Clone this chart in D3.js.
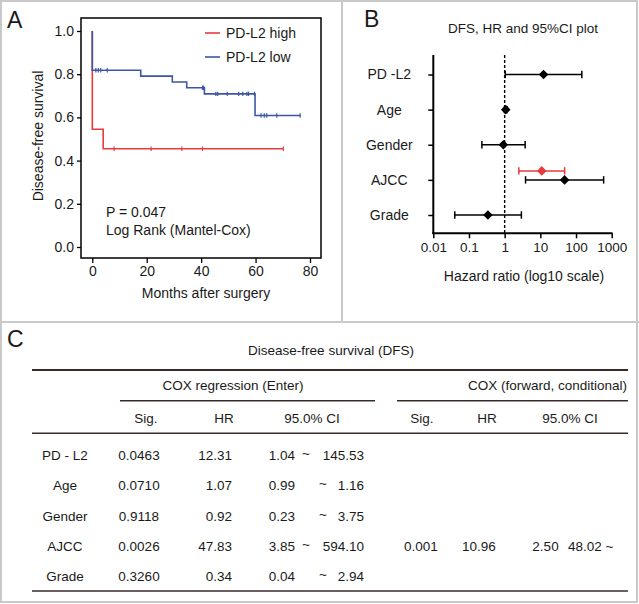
<!doctype html>
<html lang="en">
<head>
<meta charset="utf-8">
<title>Disease-free survival, PD-L2</title>
<script src="https://cdn.jsdelivr.net/npm/d3@7"></script>
<style>
    body { margin: 0; background: #fff; }
    svg text { font-family: "Liberation Sans", Arial, sans-serif; fill: #1a1a1a; }
</style>
</head>
<body>
<svg id="chart" width="639" height="604"></svg>
<script>
// ---- panel A: Kaplan-Meier curves (months, survival) ----
var highTimes = [0, 4.0];
var highSurv = [0.545, 0.455];
var highEnd = 70.2;
var highCensor = [8.0, 21.6, 32.9, 40.5, 70.2];

var lowTimes = [0, 17.8, 29.4, 34.7, 41.2, 59.8];
var lowSurv = [0.818, 0.791, 0.764, 0.737, 0.709, 0.609];
var lowEnd = 76.4;
var lowCensor = [1.3, 2.2, 3.1, 5.5, 40.5, 40.9, 45.4, 46.1, 49.6, 53.8, 55.3, 56.8, 57.4, 59.6, 62.0, 63.2, 64.1, 67.8, 76.4];

var monthTicks = [0, 20, 40, 60, 80];
var survTicks = [0, 0.2, 0.4, 0.6, 0.8, 1.0];

// ---- panel B / C: cox regression ----
var variables = ["PD -L2", "Age", "Gender", "AJCC", "Grade"];
var tableLabels = ["PD - L2", "Age", "Gender", "AJCC", "Grade"];
var sigEnter = ["0.0463", "0.0710", "0.9118", "0.0026", "0.3260"];
var hrEnter = [12.31, 1.07, 0.92, 47.83, 0.34];
var ciLowEnter = [1.04, 0.99, 0.23, 3.85, 0.04];
var ciHighEnter = [145.53, 1.16, 3.75, 594.10, 2.94];

var sigForward = [null, null, null, "0.001", null];
var hrForward = [null, null, null, 10.96, null];
var ciLowForward = [null, null, null, 2.50, null];
var ciHighForward = [null, null, null, 48.02, null];

var hrTicks = [0.01, 0.1, 1, 10, 100, 1000];

var red = "#e63b3e", blue = "#3d56a3", ink = "#1a1a1a", rule = "#3b2a2a";

var svg = d3.select("#chart");

// panel frames
svg.append("rect").attr("x", 1).attr("y", 1).attr("width", 636).attr("height", 601)
    .attr("fill", "none").attr("stroke", "#c9c9c9").attr("stroke-width", 2);
svg.append("line").attr("x1", 342).attr("x2", 342).attr("y1", 0).attr("y2", 322)
    .attr("stroke", "#c9c9c9").attr("stroke-width", 2);
svg.append("line").attr("x1", 0).attr("x2", 639).attr("y1", 322).attr("y2", 322)
    .attr("stroke", "#c9c9c9").attr("stroke-width", 2);

function panelLetter(t, x, y) {
    svg.append("text").attr("x", x).attr("y", y).text(t)
        .style("font-size", "23px");
}
panelLetter("A", 7, 28);
panelLetter("B", 364, 27);
panelLetter("C", 7, 347);

/* ================= A ================= */
var kx = d3.scaleLinear().domain([0, 80]).range([92.3, 310]);
var ky = d3.scaleLinear().domain([0, 1]).range([247, 31]);

var gA = svg.append("g");
gA.append("rect").attr("x", 81).attr("y", 18).attr("width", 240).attr("height", 240)
    .attr("fill", "none").attr("stroke", "#000").attr("stroke-width", 1.5);

var yAx = gA.append("g").attr("transform", "translate(81,0)")
    .call(d3.axisLeft(ky).tickValues(survTicks).tickFormat(d3.format(".1f")).tickSize(4).tickPadding(3));
var xAx = gA.append("g").attr("transform", "translate(0,258)")
    .call(d3.axisBottom(kx).tickValues(monthTicks).tickSize(5).tickPadding(3));
[yAx, xAx].forEach(function (a) {
    a.select(".domain").remove();
    a.selectAll("line").attr("stroke", "#000").attr("stroke-width", 1.3);
    a.selectAll("text").style("font-size", "14px").attr("fill", ink);
});

gA.append("text").attr("transform", "translate(43,136) rotate(-90)")
    .attr("text-anchor", "middle").style("font-size", "14px").text("Disease-free survival");
gA.append("text").attr("x", 206).attr("y", 298)
    .attr("text-anchor", "middle").style("font-size", "14px").text("Months after surgery");

function stepPoints(times, surv, end) {
    var pts = [[0, 1]];
    times.forEach(function (t, i) { pts.push([t, surv[i]]); });
    pts.push([end, surv[surv.length - 1]]);
    return pts;
}
function survAt(times, surv, t) {
    var s = 1;
    times.forEach(function (tt, i) { if (tt <= t) s = surv[i]; });
    return s;
}
var km = d3.line().x(function (d) { return kx(d[0]); }).y(function (d) { return ky(d[1]); })
    .curve(d3.curveStepAfter);

[[highTimes, highSurv, highEnd, highCensor, red], [lowTimes, lowSurv, lowEnd, lowCensor, blue]]
    .forEach(function (g) {
        gA.append("path").datum(stepPoints(g[0], g[1], g[2])).attr("d", km)
            .attr("fill", "none").attr("stroke", g[4]).attr("stroke-width", 1.6);
        gA.selectAll(null).data(g[3]).enter().append("line")
            .attr("x1", function (d) { return kx(d); }).attr("x2", function (d) { return kx(d); })
            .attr("y1", function (d) { return ky(survAt(g[0], g[1], d)) - 2.2; })
            .attr("y2", function (d) { return ky(survAt(g[0], g[1], d)) + 2.2; })
            .attr("stroke", g[4]).attr("stroke-width", 1.2);
    });

// legend
[["PD-L2 high", red, 33], ["PD-L2 low", blue, 57]].forEach(function (l) {
    gA.append("line").attr("x1", 205).attr("x2", 220).attr("y1", l[2]).attr("y2", l[2])
        .attr("stroke", l[1]).attr("stroke-width", 1.6);
    gA.append("text").attr("x", 226).attr("y", l[2] + 5).style("font-size", "14px").text(l[0]);
});
gA.append("text").attr("x", 106).attr("y", 217).style("font-size", "14px").text("P = 0.047");
gA.append("text").attr("x", 106).attr("y", 235).style("font-size", "14px").text("Log Rank (Mantel-Cox)");

/* ================= B ================= */
var fx = d3.scaleLog().domain([0.01, 1000]).range([433.3, 611.7]);
var fy = d3.scalePoint().domain(variables).range([74.5, 215]);
var gB = svg.append("g");

gB.append("text").attr("x", 523).attr("y", 33).attr("text-anchor", "middle")
    .style("font-size", "13.5px").text("DFS, HR and 95%CI plot");

gB.append("line").attr("x1", 433.3).attr("x2", 433.3).attr("y1", 55).attr("y2", 234)
    .attr("stroke", "#000").attr("stroke-width", 2);
gB.append("line").attr("x1", 432.3).attr("x2", 612.5).attr("y1", 233.3).attr("y2", 233.3)
    .attr("stroke", "#000").attr("stroke-width", 2);

var fyAx = gB.append("g").attr("transform", "translate(433.3,0)")
    .call(d3.axisLeft(fy).tickSize(5).tickPadding(0));
fyAx.selectAll("text").attr("x", -44).attr("text-anchor", "middle")
    .style("font-size", "14px").attr("fill", ink);
var fxAx = gB.append("g").attr("transform", "translate(0,233.3)")
    .call(d3.axisBottom(fx).tickValues(hrTicks).tickFormat(function (d) { return String(d); })
        .tickSize(5).tickPadding(4));
fxAx.selectAll("text").style("font-size", "13.5px").attr("fill", ink);
[fyAx, fxAx].forEach(function (a) {
    a.select(".domain").remove();
    a.selectAll("line").attr("stroke", "#000").attr("stroke-width", 1.5);
});

gB.append("text").attr("x", 524).attr("y", 281).attr("text-anchor", "middle")
    .style("font-size", "14px").text("Hazard ratio (log10 scale)");

gB.append("line").attr("x1", fx(1)).attr("x2", fx(1)).attr("y1", 55).attr("y2", 233)
    .attr("stroke", "#000").attr("stroke-width", 1.4).attr("stroke-dasharray", "3,2");

function hrMark(hr, lo, hi, y, col) {
    gB.append("line").attr("x1", fx(lo)).attr("x2", fx(hi)).attr("y1", y).attr("y2", y)
        .attr("stroke", col).attr("stroke-width", 1.5);
    [lo, hi].forEach(function (v) {
        gB.append("line").attr("x1", fx(v)).attr("x2", fx(v)).attr("y1", y - 3.7).attr("y2", y + 3.7)
            .attr("stroke", col).attr("stroke-width", 1.5);
    });
    var cx = fx(hr), r = 4.8;
    gB.append("path").attr("d", "M" + cx + "," + (y - r) + "L" + (cx + r) + "," + y + "L" + cx + "," + (y + r) + "L" + (cx - r) + "," + y + "Z")
        .attr("fill", col);
}
variables.forEach(function (v, i) {
    hrMark(hrEnter[i], ciLowEnter[i], ciHighEnter[i], fy(v), "#000");
    if (hrForward[i] != null) hrMark(hrForward[i], ciLowForward[i], ciHighForward[i], fy(v) - 9, red);
});

/* ================= C ================= */
var gC = svg.append("g").style("font-size", "13.5px");
function txt(x, y, s, anchor) {
    gC.append("text").attr("x", x).attr("y", y).attr("text-anchor", anchor || "middle").text(s);
}
function hr(x1, x2, y, w) {
    gC.append("line").attr("x1", x1).attr("x2", x2).attr("y1", y).attr("y2", y)
        .attr("stroke", rule).attr("stroke-width", w);
}
txt(331, 355, "Disease-free survival (DFS)");
hr(32, 628, 370, 2);
txt(233, 390, "COX regression (Enter)");
txt(627, 390, "COX (forward, conditional)", "end");
hr(120, 375, 400.7, 1.5);
hr(397, 628, 400.7, 1.5);
txt(146, 423, "Sig.");
txt(224, 423, "HR");
txt(312, 423, "95.0% CI");
txt(422, 423, "Sig.");
txt(487, 423, "HR");
txt(570, 423, "95.0% CI");
hr(32, 628, 433.3, 1.5);

var rowY = d3.scalePoint().domain(tableLabels).range([460, 581]);
tableLabels.forEach(function (lab, i) {
    var y = rowY(lab);
    txt(65, y, lab);
    txt(139, y, sigEnter[i]);
    txt(232, y, hrEnter[i].toFixed(2), "end");
    txt(295, y, ciLowEnter[i].toFixed(2), "end");
    txt(ciHighEnter[i] >= 100 ? 306 : 323, y - 2, "~");
    txt(364, y, ciHighEnter[i].toFixed(2), "end");
    if (sigForward[i] != null) {
        txt(421, y, sigForward[i]);
        txt(479, y, hrForward[i].toFixed(2));
        txt(545.5, y, ciLowForward[i].toFixed(2));
        txt(568, y, ciHighForward[i].toFixed(2) + " ~", "start");
    }
});
hr(32, 628, 591, 1.5);
</script>
</body>
</html>
